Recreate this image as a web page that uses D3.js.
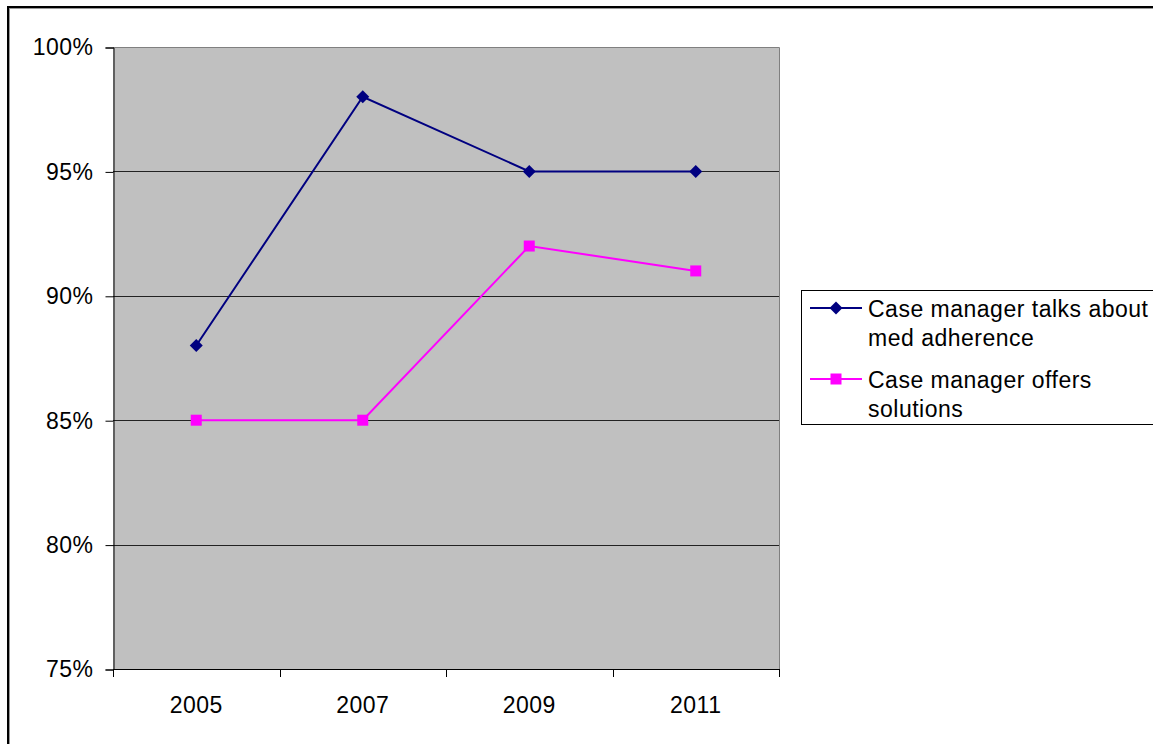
<!DOCTYPE html>
<html>
<head>
<meta charset="utf-8">
<script src="https://cdn.jsdelivr.net/npm/d3@7"></script>
<style>
  html, body { margin: 0; padding: 0; background: #fff; }
  svg { display: block; }
  text { font-family: "Liberation Sans", Arial, sans-serif; fill: #000; }
</style>
</head>
<body>
<svg id="chart" width="1153" height="744"></svg>
<script>
// Survey years and the share of respondents reporting each behaviour
const years = ["2005", "2007", "2009", "2011"];
const talksAboutAdherence = [0.88, 0.98, 0.95, 0.95];
const offersSolutions = [0.85, 0.85, 0.92, 0.91];
const yTicks = [0.75, 0.80, 0.85, 0.90, 0.95, 1.00];
const seriesNames = ["Case manager talks about|med adherence", "Case manager offers|solutions"];

const FONT_SIZE = 23;
const LETTER_SPACING = 0.5;

const svg = d3.select("#chart");
const plot = { left: 113, top: 47, right: 779, bottom: 669 };

// Outer chart frame with a soft shadow line
svg.append("rect").attr("x", 9.5).attr("y", 8.5).attr("width", 1160).attr("height", 760)
  .attr("fill", "none").attr("stroke", "#999").attr("stroke-width", 1);
svg.append("rect").attr("x", 8).attr("y", 7).attr("width", 1160).attr("height", 760)
  .attr("fill", "none").attr("stroke", "#000").attr("stroke-width", 2);

const x = d3.scaleBand().domain(years).range([plot.left, plot.right]);
const y = d3.scaleLinear().domain([0.75, 1.0]).range([plot.bottom, plot.top]);

// Plot area background
svg.append("rect")
  .attr("x", plot.left).attr("y", plot.top)
  .attr("width", plot.right - plot.left).attr("height", plot.bottom - plot.top)
  .attr("fill", "#c0c0c0");

// Horizontal gridlines
svg.append("g").selectAll("line")
  .data(yTicks.filter(v => v > 0.75 && v < 1.0))
  .join("line")
  .attr("x1", plot.left).attr("x2", plot.right)
  .attr("y1", d => Math.round(y(d)) + 0.5).attr("y2", d => Math.round(y(d)) + 0.5)
  .attr("stroke", "#222").attr("stroke-width", 1);

// Top and right plot border
svg.append("path")
  .attr("d", `M${plot.left},${plot.top + 0.5}H${plot.right + 0.5}V${plot.bottom}`)
  .attr("fill", "none").attr("stroke", "#808080").attr("stroke-width", 1);

// Y axis
const yAxis = d3.axisLeft(y).tickValues(yTicks).tickFormat(d3.format(".0%"))
  .tickSize(8).tickPadding(12);
const gy = svg.append("g").attr("transform", `translate(${plot.left + 0.5},0.5)`).call(yAxis);
gy.select(".domain").attr("stroke", "#000");
gy.selectAll(".tick line").attr("stroke", "#000");
gy.selectAll("text").attr("font-size", FONT_SIZE).attr("letter-spacing", LETTER_SPACING)
  .attr("font-family", "Liberation Sans, Arial, sans-serif").attr("fill", "#000");

// X axis with ticks at category boundaries
const xAxis = d3.axisBottom(x).tickSize(0).tickPadding(27);
const gx = svg.append("g").attr("transform", `translate(0,${plot.bottom + 0.5})`).call(xAxis);
gx.select(".domain").remove();
gx.selectAll("text").attr("font-size", FONT_SIZE).attr("letter-spacing", LETTER_SPACING)
  .attr("font-family", "Liberation Sans, Arial, sans-serif")
  .attr("fill", "#000").attr("dy", "0.71em");
svg.append("line")
  .attr("x1", plot.left).attr("x2", plot.right + 1)
  .attr("y1", plot.bottom + 0.5).attr("y2", plot.bottom + 0.5)
  .attr("stroke", "#000");
const boundaries = years.map(d => x(d)).concat([x.range()[1]]);
svg.append("g").selectAll("line").data(boundaries).join("line")
  .attr("x1", d => Math.round(d) + 0.5).attr("x2", d => Math.round(d) + 0.5)
  .attr("y1", plot.bottom).attr("y2", plot.bottom + 8)
  .attr("stroke", "#000");

const cx = d => x(d) + x.bandwidth() / 2;
const line = d3.line().x(d => cx(d.year)).y(d => y(d.value));

const series = [
  { values: talksAboutAdherence, color: "#000080", marker: "diamond" },
  { values: offersSolutions, color: "#ff00ff", marker: "square" }
];

function drawMarker(g, type, color) {
  if (type === "diamond") {
    g.append("path").attr("d", "M0,-6.5L6.5,0L0,6.5L-6.5,0Z").attr("fill", color);
  } else {
    g.append("rect").attr("x", -5.5).attr("y", -5.5).attr("width", 11).attr("height", 11).attr("fill", color);
  }
}

series.forEach(s => {
  const pts = years.map((yr, i) => ({ year: yr, value: s.values[i] }));
  svg.append("path").datum(pts).attr("d", line)
    .attr("fill", "none").attr("stroke", s.color).attr("stroke-width", 2);
  pts.forEach(p => {
    const g = svg.append("g").attr("transform", `translate(${cx(p.year)},${y(p.value)})`);
    drawMarker(g, s.marker, s.color);
  });
});

// Legend
const legend = svg.append("g");
legend.append("rect").attr("x", 801.5).attr("y", 290.5).attr("width", 360).attr("height", 134)
  .attr("fill", "#fff").attr("stroke", "#000").attr("stroke-width", 1);
const legendRows = [308, 379];
series.forEach((s, i) => {
  const ly = legendRows[i];
  legend.append("line").attr("x1", 810).attr("x2", 862).attr("y1", ly).attr("y2", ly)
    .attr("stroke", s.color).attr("stroke-width", 2);
  const g = legend.append("g").attr("transform", `translate(836,${ly})`);
  drawMarker(g, s.marker, s.color);
  const lines = seriesNames[i].split("|");
  const t = legend.append("text").attr("x", 868).attr("y", ly + 1).attr("font-size", FONT_SIZE)
    .attr("letter-spacing", LETTER_SPACING);
  lines.forEach((ln, j) => {
    t.append("tspan").attr("x", 868).attr("dy", j === 0 ? "0.35em" : 29).text(ln);
  });
});
</script>
</body>
</html>
